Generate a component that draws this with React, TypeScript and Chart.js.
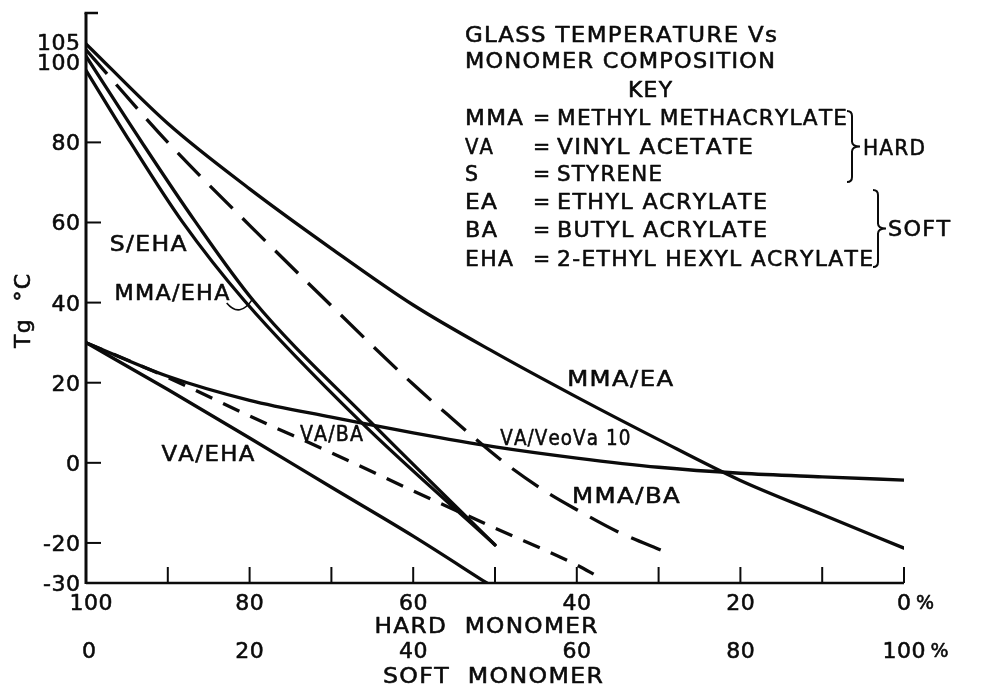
import React, { useEffect, useRef } from 'react';
import { Chart, registerables } from 'chart.js';

Chart.register(...registerables);

// ---------------- data (x = % hard monomer, y = Tg in °C) ----------------
const mmaEaX = [100, 90, 80, 70, 60, 50, 40, 30, 20, 10, 0];
const mmaEaY = [104.6, 84.7, 68.4, 53.5, 39.4, 27.5, 16.4, 5.8, -4.4, -12.9, -21.3];

const mmaBaX = [100, 90, 80, 71.6, 60, 55.5, 49, 44, 40, 35, 29];
const mmaBaY = [103.1, 80, 59.3, 42.4, 19.6, 11.5, 0.3, -6.9, -11.7, -17.2, -22.4];

const sEhaX = [100, 94.6, 88.3, 80.6, 66.5, 50];
const sEhaY = [98, 80.1, 60.4, 40.4, 10.4, -20.5];

const mmaEhaX = [100, 93.2, 86.7, 79.5, 65.3, 50];
const mmaEhaY = [101.5, 80.1, 60.4, 40.4, 10.4, -20.5];

const vaVeovaX = [100, 90, 80, 70, 60, 50, 40, 30, 20, 10, 0];
const vaVeovaY = [30, 21.6, 15.6, 11.4, 7.5, 4, 1.2, -1.1, -2.6, -3.5, -4.3];

const vaBaX = [100, 90, 80, 70, 60, 50, 40, 37.5];
const vaBaY = [30, 21.3, 11.7, 2.5, -7, -16.3, -25.5, -28.3];

const vaEhaX = [100, 90, 80, 70, 60, 51];
const vaEhaY = [30, 18.3, 6.2, -6.1, -18.3, -30];

// axis ticks
const yTickValues = [105, 100, 80, 60, 40, 20, 0, -20, -30];
const yTickLabels = ['105', '100', '80', '60', '40', '20', '0', '-20', '-30'];
const yTickMarks = [80, 60, 40, 20, 0, -20];
const xTickMarks = [90, 80, 70, 60, 50, 40, 30, 20, 10, 0];
const hardTickValues = [100, 80, 60, 40, 20, 0];
const hardTickLabels = ['100', '80', '60', '40', '20', '0%'];
const softTickLabels = ['0', '20', '40', '60', '80', '100%'];

// curve labels (anchored in data coordinates)
const curveLabels = ['S/EHA', 'MMA/EHA', 'MMA/EA', 'VA/VeoVa 10', 'MMA/BA', 'VA/BA', 'VA/EHA'];
const curveLabelX = [92.4, 89.5, 34.7, 41.4, 34, 70, 85.1];
const curveLabelY = [54.8, 42.6, 20.9, 6.4, -8.3, 7.2, 2.2];

// key text
const titleLines = ['GLASS TEMPERATURE Vs', 'MONOMER COMPOSITION'];
const keyAbbr = ['MMA', 'VA', 'S', 'EA', 'BA', 'EHA'];
const keyNames = [
  'METHYL METHACRYLATE',
  'VINYL ACETATE',
  'STYRENE',
  'ETHYL ACRYLATE',
  'BUTYL ACRYLATE',
  '2-ETHYL HEXYL ACRYLATE',
];

// ---------------- drawing helpers ----------------
const FONT = '"DejaVu Sans", "Liberation Sans", sans-serif';
const INK = '#0b0b0b';

function naturalWidth(ctx: CanvasRenderingContext2D, text: string, size: number, ls: number) {
  ctx.font = `${size}px ${FONT}`;
  const chars = Array.from(text);
  const nat = chars.reduce((a, c) => a + ctx.measureText(c).width, 0);
  return nat + ls * Math.max(0, chars.length - 1);
}

function drawText(
  ctx: CanvasRenderingContext2D,
  text: string,
  x: number,
  y: number,
  size: number,
  align: 'left' | 'center' | 'right' = 'left',
  width?: number,
  ls = 1.2
) {
  ctx.font = `${size}px ${FONT}`;
  ctx.textAlign = 'left';
  ctx.textBaseline = 'alphabetic';
  const chars = Array.from(text);
  const ws = chars.map((c) => ctx.measureText(c).width);
  const nat = ws.reduce((a, b) => a + b, 0) + ls * Math.max(0, chars.length - 1);
  let sx = width != null ? width / nat : 1;
  sx = Math.max(0.7, Math.min(1.6, sx));
  const total = nat * sx;
  const left = align === 'center' ? x - total / 2 : align === 'right' ? x - total : x;
  ctx.save();
  ctx.translate(left, y + size * 0.36);
  ctx.scale(sx, 1);
  ctx.lineWidth = 0.55;
  ctx.lineJoin = 'round';
  let cx = 0;
  chars.forEach((c, i) => {
    ctx.fillText(c, cx, 0);
    ctx.strokeText(c, cx, 0);
    cx += ws[i] + ls;
  });
  ctx.restore();
  return total;
}

function brace(ctx: CanvasRenderingContext2D, x: number, top: number, bottom: number, tip: number) {
  const mid = (top + bottom) / 2;
  ctx.beginPath();
  ctx.moveTo(x - 5, top);
  ctx.quadraticCurveTo(x, top, x, top + 5);
  ctx.lineTo(x, mid - 5);
  ctx.quadraticCurveTo(x, mid, tip, mid);
  ctx.quadraticCurveTo(x, mid, x, mid + 5);
  ctx.lineTo(x, bottom - 5);
  ctx.quadraticCurveTo(x, bottom, x - 5, bottom);
  ctx.stroke();
}

const decorPlugin = {
  id: 'decor',
  beforeDraw(chart: any) {
    const ctx = chart.ctx as CanvasRenderingContext2D;
    ctx.save();
    ctx.fillStyle = '#ffffff';
    ctx.fillRect(0, 0, chart.width, chart.height);
    ctx.restore();
  },
  afterDraw(chart: any) {
    const ctx = chart.ctx as CanvasRenderingContext2D;
    const xs = chart.scales.x;
    const ys = chart.scales.y;
    const ca = chart.chartArea;
    ctx.save();
    ctx.strokeStyle = INK;
    ctx.fillStyle = INK;
    ctx.lineCap = 'butt';

    // axes
    ctx.lineWidth = 3;
    ctx.beginPath();
    ctx.moveTo(ca.left, ca.top);
    ctx.lineTo(ca.left, ca.bottom + 1);
    ctx.stroke();
    ctx.lineWidth = 2.5;
    ctx.beginPath();
    ctx.moveTo(ca.left - 1.5, ca.top);
    ctx.lineTo(ca.left + 12, ca.top);
    ctx.stroke();
    ctx.beginPath();
    ctx.moveTo(ca.left, ca.bottom);
    ctx.lineTo(ca.right, ca.bottom);
    ctx.stroke();

    // ticks (inward)
    ctx.lineWidth = 2;
    yTickMarks.forEach((v) => {
      const py = ys.getPixelForValue(v);
      ctx.beginPath();
      ctx.moveTo(ca.left, py);
      ctx.lineTo(ca.left + 15, py);
      ctx.stroke();
    });
    xTickMarks.forEach((v) => {
      const px = xs.getPixelForValue(v);
      ctx.beginPath();
      ctx.moveTo(px, ca.bottom);
      ctx.lineTo(px, ca.bottom - 16);
      ctx.stroke();
    });

    // y tick labels
    yTickValues.forEach((v, i) => {
      const py = ys.getPixelForValue(v);
      drawText(ctx, yTickLabels[i], ca.left - 6, py, 22, 'right', undefined, 0.5);
    });

    // x tick labels: hard row and soft row
    const rowY1 = ca.bottom + 19;
    const rowY2 = ca.bottom + 67;
    const drawXLabel = (label: string, v: number, yy: number, shift: number) => {
      const px = xs.getPixelForValue(v) + shift;
      const num = label.replace('%', '');
      const w = naturalWidth(ctx, num, 22, 0.5);
      drawText(ctx, num, px - w / 2, yy, 22, 'left', undefined, 0.5);
      if (label.endsWith('%')) {
        drawText(ctx, '%', px + w / 2 + 5, yy, 19, 'left');
      }
    };
    hardTickValues.forEach((v, i) => drawXLabel(hardTickLabels[i], v, rowY1, i === 0 ? 5 : 0));
    hardTickValues.forEach((v, i) => drawXLabel(softTickLabels[i], v, rowY2, i === 0 ? 3 : 0));

    // axis titles
    drawText(ctx, 'HARD  MONOMER', 486, ca.bottom + 42, 21, 'center', 223);
    drawText(ctx, 'SOFT  MONOMER', 493, ca.bottom + 92, 21, 'center', 220);

    ctx.save();
    ctx.translate(22.5, 311);
    ctx.rotate(-Math.PI / 2);
    drawText(ctx, 'Tg  °C', 0, 0, 21, 'center', 74);
    ctx.restore();

    // curve labels
    const labelWidths = [77, 115, 106, 130, 108, 63, 93];
    curveLabels.forEach((t, i) => {
      const px = xs.getPixelForValue(curveLabelX[i]);
      const py = ys.getPixelForValue(curveLabelY[i]);
      drawText(ctx, t, px, py, 20.5, 'center', labelWidths[i]);
    });

    // leader from MMA/EHA label to its curve
    ctx.lineWidth = 1.6;
    ctx.beginPath();
    ctx.moveTo(xs.getPixelForValue(82.8), ys.getPixelForValue(39.9));
    ctx.quadraticCurveTo(
      xs.getPixelForValue(81.2),
      ys.getPixelForValue(36.0),
      xs.getPixelForValue(79.6),
      ys.getPixelForValue(41.0)
    );
    ctx.stroke();

    // key block
    const tx = 465;
    drawText(ctx, titleLines[0], tx, 34.5, 20.5, 'left', 312);
    drawText(ctx, titleLines[1], tx, 61, 20.5, 'left', 310);
    drawText(ctx, 'KEY', 650, 89.5, 20.5, 'center', 44);
    const rowYs = [117.5, 146.5, 173.5, 201.7, 230, 258.5];
    const abbrW = [58, 28, 0, 32, 32, 48];
    const nameW = [290, 196, 105, 210, 210, 316];
    keyAbbr.forEach((a, i) => {
      drawText(ctx, a, tx, rowYs[i], 20.5, 'left', abbrW[i] || undefined);
      drawText(ctx, '=', 533, rowYs[i], 20.5, 'left');
      drawText(ctx, keyNames[i], 557, rowYs[i], 20.5, 'left', nameW[i]);
    });

    ctx.lineWidth = 2;
    brace(ctx, 852, 111, 182, 860);
    drawText(ctx, 'HARD', 863, 148, 20.5, 'left', 62);
    brace(ctx, 878, 190, 267, 886);
    drawText(ctx, 'SOFT', 888, 229, 20.5, 'left', 62);

    ctx.restore();
  },
};

function series(xs: number[], ys: number[]) {
  return xs.map((x, i) => ({ x, y: ys[i] }));
}

export default function App() {
  const canvasRef = useRef<HTMLCanvasElement | null>(null);

  useEffect(() => {
    const canvas = canvasRef.current;
    if (!canvas) return;
    const base = {
      borderColor: INK,
      borderWidth: 3.3,
      pointRadius: 0,
      fill: false,
      cubicInterpolationMode: 'monotone' as const,
      borderCapStyle: 'round' as const,
    };
    const chart = new Chart(canvas, {
      type: 'line',
      data: {
        datasets: [
          { ...base, label: 'MMA/EA', data: series(mmaEaX, mmaEaY) },
          { ...base, label: 'MMA/BA', data: series(mmaBaX, mmaBaY), borderDash: [32, 14], borderCapStyle: 'butt' },
          { ...base, label: 'S/EHA', data: series(sEhaX, sEhaY) },
          { ...base, label: 'MMA/EHA', data: series(mmaEhaX, mmaEhaY) },
          { ...base, label: 'VA/VeoVa 10', data: series(vaVeovaX, vaVeovaY) },
          { ...base, label: 'VA/BA', data: series(vaBaX, vaBaY), borderDash: [18, 12], borderCapStyle: 'butt' },
          { ...base, label: 'VA/EHA', data: series(vaEhaX, vaEhaY) },
        ] as any,
      },
      options: {
        responsive: false,
        animation: false,
        events: [],
        layout: { padding: { left: 86, right: 82, top: 13, bottom: 103 } },
        plugins: { legend: { display: false }, tooltip: { enabled: false } },
        scales: {
          x: { type: 'linear', reverse: true, min: 0, max: 100, display: false },
          y: { type: 'linear', min: -30, max: 112.3, display: false },
        },
      },
      plugins: [decorPlugin],
    });
    return () => chart.destroy();
  }, []);

  return (
    <div style={{ position: 'absolute', left: 0, top: 0, width: 986, height: 686, background: '#fff' }}>
      <canvas ref={canvasRef} width={986} height={686} style={{ display: 'block', width: 986, height: 686 }} />
    </div>
  );
}
